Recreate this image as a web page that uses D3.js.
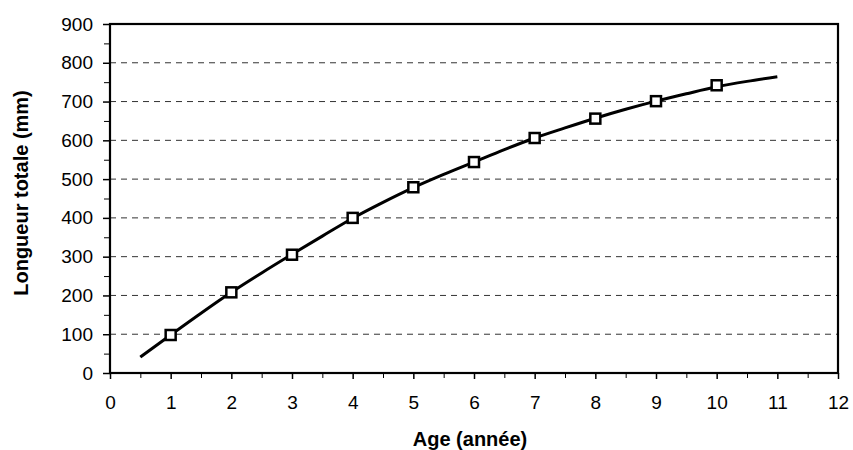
<!DOCTYPE html>
<html>
<head>
<meta charset="utf-8">
<script src="https://cdn.jsdelivr.net/npm/d3@7"></script>
<style>
  body { margin: 0; background: #fff; }
  svg text { font-family: "Liberation Sans", Arial, sans-serif; }
</style>
</head>
<body>
<svg id="chart"></svg>
<script>
// observed lengths by age
const ages = [1, 2, 3, 4, 5, 6, 7, 8, 9, 10];
const lengths = [98, 208, 305, 400, 479, 544, 606, 656, 701, 742];

// fitted growth curve
const fitAges = [0.5, 1, 1.5, 2, 2.5, 3, 3.5, 4, 4.5, 5, 5.5, 6, 6.5, 7, 7.5, 8, 8.5, 9, 9.5, 10, 10.5, 11];
const fitLengths = [41, 98, 154, 208, 258, 306, 353, 399, 440, 478, 512, 544, 576, 606, 632, 657, 680, 701, 720, 738, 752, 764];

const xTicks = [0, 1, 2, 3, 4, 5, 6, 7, 8, 9, 10, 11, 12];
const yTicks = [0, 100, 200, 300, 400, 500, 600, 700, 800, 900];

const W = 853, H = 450;
const margin = { top: 24, right: 15, bottom: 77, left: 110 };
const width = W - margin.left - margin.right;
const height = H - margin.top - margin.bottom;

const svg = d3.select("#chart").attr("width", W).attr("height", H);
const g = svg.append("g").attr("transform", `translate(${margin.left}, ${margin.top})`);

const x = d3.scaleLinear().domain([0, 12]).range([0, width]);
const y = d3.scaleLinear().domain([0, 900]).range([height, 0]);

// dashed gridlines
g.append("g")
    .selectAll("line")
    .data(yTicks.filter(d => d > 0 && d < 900))
    .enter()
    .append("line")
    .attr("x1", 0).attr("x2", width)
    .attr("y1", d => y(d)).attr("y2", d => y(d))
    .attr("stroke", "#333")
    .attr("stroke-width", 1)
    .attr("stroke-dasharray", "6,5");

// minor ticks
g.append("g")
    .attr("transform", `translate(0, ${height})`)
    .call(d3.axisBottom(x).tickValues(d3.range(0.5, 12, 1)).tickSize(5).tickFormat(""))
    .call(a => a.select(".domain").remove())
    .selectAll("line").attr("stroke", "#000").attr("stroke-width", 1);

g.append("g")
    .call(d3.axisLeft(y).tickValues(d3.range(50, 900, 100)).tickSize(6).tickFormat(""))
    .call(a => a.select(".domain").remove())
    .selectAll("line").attr("stroke", "#000").attr("stroke-width", 1);

// major axes
const xAxis = g.append("g")
    .attr("transform", `translate(0, ${height})`)
    .call(d3.axisBottom(x).tickValues(xTicks).tickSize(6).tickPadding(17));

const yAxis = g.append("g")
    .call(d3.axisLeft(y).tickValues(yTicks).tickSize(7).tickPadding(10));

[xAxis, yAxis].forEach(a => {
    a.select(".domain").remove();
    a.selectAll("line").attr("stroke", "#000").attr("stroke-width", 1.5);
    a.selectAll("text").attr("fill", "#000").style("font-size", "19px");
});

// plot frame
g.append("rect")
    .attr("x", 0).attr("y", 0)
    .attr("width", width).attr("height", height)
    .attr("fill", "none")
    .attr("stroke", "#000")
    .attr("stroke-width", 2.2);

// fitted curve
const line = d3.line()
    .x((d, i) => x(fitAges[i]))
    .y(d => y(d))
    .curve(d3.curveMonotoneX);

g.append("path")
    .datum(fitLengths)
    .attr("d", line)
    .attr("fill", "none")
    .attr("stroke", "#000")
    .attr("stroke-width", 3);

// observed points
g.selectAll(".pt")
    .data(lengths)
    .enter()
    .append("rect")
    .attr("class", "pt")
    .attr("x", (d, i) => x(ages[i]) - 5)
    .attr("y", d => y(d) - 5)
    .attr("width", 10)
    .attr("height", 10)
    .attr("fill", "#fff")
    .attr("stroke", "#000")
    .attr("stroke-width", 2.5);

// axis titles
svg.append("text")
    .attr("x", 470)
    .attr("y", 446)
    .attr("text-anchor", "middle")
    .style("font-size", "20px")
    .style("font-weight", "bold")
    .text("Age (année)");

svg.append("text")
    .attr("transform", `translate(28, 193) rotate(-90)`)
    .attr("text-anchor", "middle")
    .style("font-size", "20px")
    .style("font-weight", "bold")
    .text("Longueur totale (mm)");
</script>
</body>
</html>
